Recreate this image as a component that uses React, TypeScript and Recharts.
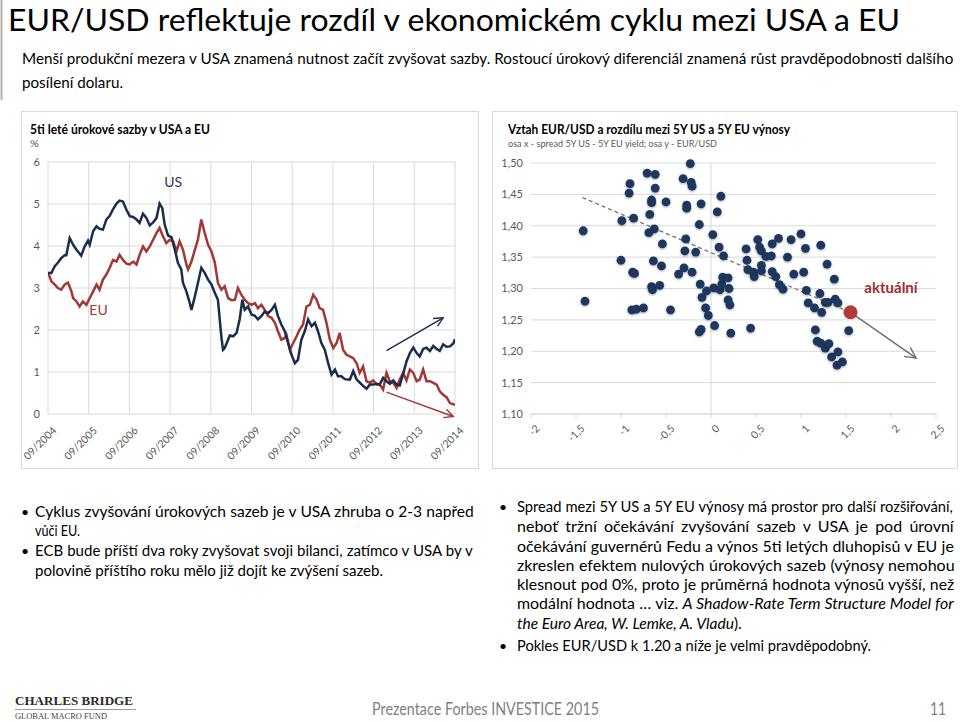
import React from "react";
import {
  LineChart,
  Line,
  XAxis,
  YAxis,
  CartesianGrid,
  ReferenceLine,
  ReferenceDot,
  ScatterChart,
  Scatter,
} from "recharts";

const FONT = 'Lato, "Open Sans", sans-serif';
const SERIF = '"Liberation Serif", "DejaVu Serif", serif';
const US_COLOR = "#1b2d4f";
const EU_COLOR = "#a13835";
const DOT_COLOR = "#1d3860";
const NOW_COLOR = "#b23b36";
const GRID = "#d9d9d9";
const TICK = "#595959";

// 5Y yields, x = months after 09/2004
const usMonth = [
  0, 1, 2, 2.9, 3.9, 4.9, 5.4, 6.4, 7.4, 8.4, 9.3, 9.8, 10.8, 11.8, 12.3, 13.3,
  14.3, 15.2, 16.2, 17.2, 18.2, 19.2, 20.2, 21.1, 22.1, 23.1, 24.1, 25.1, 26.1,
  27, 28, 29, 30, 31, 32, 32.9, 33.7, 34.4, 35.4, 36.4, 37.4, 38.3, 39.3, 39.8,
  40.8, 41.8, 42.3, 43.3, 44.2, 45.2, 46.2, 47.2, 48.2, 49.2, 50.1, 51.1, 51.6,
  52.1, 53.1, 53.6, 54.6, 55.6, 56.5, 57.3, 58, 59, 60, 61, 61.9, 62.9, 63.9,
  64.9, 65.9, 66.9, 67.8, 68.8, 69.8, 70.8, 71.8, 72.8, 73.7, 74.7, 75.7, 76.7,
  77.7, 78.7, 79.6, 80.6, 81.6, 82.6, 83.6, 84.6, 85.5, 86.5, 87.5, 89, 90, 91,
  91.9, 92.9, 93.9, 94.9, 95.9, 96.9, 97.8, 98.8, 99.8, 100.8, 101.8, 102.8,
  103.7, 104.7, 105.7, 106.7, 107.7, 108.7, 109.6, 110.6, 111.6, 112.6, 113.6,
  114.6, 115.5, 116.5, 117.5, 118.5, 119.5, 120,
];
const usRate = [
  3.36, 3.36, 3.52, 3.6, 3.71, 3.78, 3.78, 4.19, 4.03, 3.91, 3.82, 3.77, 3.99,
  4.13, 4.03, 4.35, 4.47, 4.41, 4.39, 4.63, 4.72, 4.88, 5.01, 5.08, 5.06, 4.87,
  4.71, 4.69, 4.63, 4.55, 4.77, 4.67, 4.49, 4.56, 4.67, 5.01, 4.9, 4.51, 4.25,
  4.21, 3.91, 3.6, 3.44, 3.12, 2.92, 2.64, 2.48, 2.8, 3.12, 3.48, 3.36, 3.2,
  3.08, 2.88, 2.72, 1.85, 1.53, 1.57, 1.77, 1.87, 1.85, 1.93, 2.25, 2.72, 2.48,
  2.56, 2.37, 2.34, 2.25, 2.33, 2.44, 2.4, 2.48, 2.6, 2.33, 2.13, 1.97, 1.69,
  1.41, 1.21, 1.29, 1.77, 1.97, 2.25, 2.09, 2.17, 1.97, 1.69, 1.53, 1.21, 0.94,
  1.06, 0.9, 0.9, 0.83, 0.82, 1.02, 0.82, 0.75, 0.67, 0.6, 0.7, 0.7, 0.72, 0.7,
  0.86, 0.78, 0.72, 0.8, 0.7, 0.68, 0.95, 1.25, 1.45, 1.58, 1.45, 1.37, 1.55,
  1.58, 1.5, 1.62, 1.55, 1.5, 1.66, 1.6, 1.61, 1.68, 1.78,
];
const euMonth = [
  0, 1, 2, 2.9, 3.9, 4.9, 5.9, 6.9, 7.4, 8.4, 9.3, 10.3, 11.3, 12.3, 13.3, 14.3,
  15.2, 16.2, 17.2, 18.2, 19.2, 20.2, 21.1, 22.1, 23.1, 24.1, 25.1, 26.1, 27,
  28, 29, 30, 31, 32, 32.9, 33.9, 34.9, 35.9, 36.9, 37.9, 38.8, 39.8, 40.8,
  41.3, 42.3, 43.3, 44.2, 45.2, 46.2, 47.2, 48.2, 49.2, 50.1, 51.1, 52.1, 53.1,
  54.1, 55.1, 56, 57, 58, 59, 60, 61, 61.9, 62.9, 63.9, 64.9, 65.9, 66.9, 67.8,
  68.8, 69.8, 70.3, 71.3, 72.3, 73.3, 74.2, 75.2, 76.2, 77.2, 78.2, 79.2, 80.1,
  81.1, 82.1, 83.1, 84.1, 85.1, 86, 87, 88, 89, 90, 91, 91.9, 92.9, 93.9, 94.9,
  95.9, 96.9, 97.8, 98.8, 99.8, 100.8, 101.8, 102.8, 103.7, 104.7, 105.7,
  106.7, 107.7, 108.7, 109.6, 110.6, 111.6, 112.6, 113.6, 114.6, 115.5, 116.5,
  117.5, 118.5, 120,
];
const euRate = [
  3.37, 3.16, 3.08, 3.0, 2.96, 3.08, 3.13, 2.92, 2.76, 2.68, 2.56, 2.68, 2.6,
  2.76, 2.92, 3.08, 2.96, 3.2, 3.32, 3.48, 3.67, 3.63, 3.79, 3.67, 3.58, 3.56,
  3.63, 3.56, 3.79, 3.99, 3.87, 3.99, 4.15, 4.31, 4.43, 4.23, 4.07, 4.15, 4.11,
  3.87, 4.11, 3.91, 3.56, 3.44, 3.63, 3.91, 4.15, 4.63, 4.31, 4.03, 3.87, 3.6,
  3.12, 2.96, 3.04, 2.76, 2.71, 2.72, 3.0, 2.84, 2.72, 2.64, 2.6, 2.64, 2.52,
  2.6, 2.48, 2.33, 2.29, 2.17, 1.97, 1.77, 1.81, 1.89, 1.53, 1.69, 1.85, 2.01,
  2.13, 2.56, 2.6, 2.84, 2.72, 2.52, 2.48, 2.17, 1.77, 1.57, 1.69, 1.93, 1.53,
  1.41, 1.37, 1.33, 1.21, 0.98, 1.13, 0.78, 0.75, 0.8, 0.7, 0.7, 0.58, 0.98,
  0.78, 0.74, 0.62, 0.82, 0.98, 0.8, 1.06, 0.98, 0.78, 0.82, 1.06, 0.78, 0.78,
  0.74, 0.7, 0.54, 0.46, 0.4, 0.26, 0.22,
];
const monthTicks = [0, 12, 24, 36, 48, 60, 72, 84, 96, 108, 120];
const rateTicks = [0, 1, 2, 3, 4, 5, 6];

// trend arrows on the yield chart
const usArrow = [{ x: 99.8, y: 1.51 }, { x: 116.5, y: 2.29 }];
const euArrow = [{ x: 99.8, y: 0.52 }, { x: 119.5, y: -0.06 }];

// scatter: spread 5Y US - 5Y EU vs EUR/USD
const spreadX = [
  -0.23, -0.71, -0.62, -0.31, -0.22, -0.9, -0.21, -0.62, -0.91, 0.11, -0.5,
  -0.66, -0.66, -0.27, -0.27, -0.11, 0.07, -0.68, -0.86, -0.99, -0.13, -1.42,
  -0.63, -0.69, 0.02, -0.28, -0.54, 0.09, -0.29, -0.17, 0.14, -1.0, -0.64,
  -0.55, -0.3, -0.36, -0.21, -0.87, -0.85, -0.66, -0.65, -0.57, -0.12, 0.03,
  -0.05, 0.1, 0.12, 0.13, 0.19, 0.2, -1.4, -0.88, -0.83, -0.75, -0.45, -0.1,
  -0.06, -0.03, 0.19, 0.21, 0.04, -0.11, -0.13, 0.22, 0.44, 0.39, 0.4, 0.41,
  0.47, 0.48, 0.52, 0.54, 0.56, 0.56, 0.56, 0.61, 0.67, 0.68, 0.68, 0.72, 0.75,
  0.76, 0.8, 0.85, 0.89, 0.92, 1.0, 1.05, 1.03, 1.06, 1.08, 1.15, 1.22, 1.29,
  1.21, 1.23, 1.27, 1.3, 1.37, 1.38, 1.41, 1.16, 1.18, 1.22, 1.27, 1.31, 1.34,
  1.41, 1.4, 1.46, 1.53,
];
const eurUsd = [
  1.499, 1.484, 1.482, 1.475, 1.469, 1.467, 1.463, 1.46, 1.452, 1.447, 1.438,
  1.441, 1.437, 1.433, 1.428, 1.435, 1.422, 1.418, 1.412, 1.408, 1.402, 1.392,
  1.395, 1.389, 1.386, 1.379, 1.371, 1.366, 1.36, 1.358, 1.352, 1.345, 1.344,
  1.336, 1.333, 1.323, 1.326, 1.326, 1.324, 1.303, 1.298, 1.305, 1.307, 1.301,
  1.296, 1.298, 1.307, 1.318, 1.317, 1.3, 1.28, 1.266, 1.267, 1.269, 1.266,
  1.286, 1.269, 1.257, 1.282, 1.274, 1.241, 1.235, 1.231, 1.229, 1.237, 1.363,
  1.345, 1.33, 1.326, 1.319, 1.378, 1.366, 1.36, 1.337, 1.328, 1.351, 1.352,
  1.371, 1.327, 1.319, 1.38, 1.306, 1.299, 1.35, 1.378, 1.323, 1.387, 1.364,
  1.326, 1.297, 1.277, 1.269, 1.369, 1.339, 1.292, 1.262, 1.278, 1.278, 1.315,
  1.283, 1.277, 1.234, 1.216, 1.213, 1.205, 1.212, 1.191, 1.199, 1.178, 1.183,
  1.233,
];
const currentSpread = 1.55;
const currentEurUsd = 1.262;
const trendStart = { x: -1.43, y: 1.445 };
const outlookEnd = { x: 2.28, y: 1.189 };
const spreadTicks = [-2, -1.5, -1, -0.5, 0, 0.5, 1, 1.5, 2, 2.5];
const fxTicks = [1.1, 1.15, 1.2, 1.25, 1.3, 1.35, 1.4, 1.45, 1.5];

const usData = usMonth.map((m, i) => ({ m, v: usRate[i] }));
const euData = euMonth.map((m, i) => ({ m, v: euRate[i] }));
const scatterData = spreadX.map((x, i) => ({ x, y: eurUsd[i] }));
const nowData = [{ x: currentSpread, y: currentEurUsd }];

const monthLabel = (m: number) => `09/${2004 + Math.round(m / 12)}`;
const czNum = (v: number) => String(v).replace(".", ",");
const czFx = (v: number) => v.toFixed(2).replace(".", ",");

const measureCtx = document.createElement("canvas").getContext("2d");
const textWidth = (s: string, size: number, italic = false) => {
  if (!measureCtx) return s.length * size * 0.5;
  measureCtx.font = `${italic ? "italic " : ""}400 ${size}px Lato`;
  return measureCtx.measureText(s).width;
};

const SlantTick = ({ x, y, payload, fmt }: any) => (
  <g transform={`translate(${x + 4},${y + 4})`}>
    <text
      textAnchor="end"
      transform="rotate(-45)"
      dy="0.7em"
      fontSize={10.5}
      fill={TICK}
      fontFamily={FONT}
    >
      {fmt(payload.value)}
    </text>
  </g>
);

const arrowShape = (color: string, marker: string, w = 1.4) => (p: any) => (
  <line
    x1={p.x1}
    y1={p.y1}
    x2={p.x2}
    y2={p.y2}
    stroke={color}
    strokeWidth={w}
    markerEnd={`url(#${marker})`}
  />
);

// svg text squeezed to the measured width
const T = ({ x, y, w, size = 16, weight = 400, fill = "#000", family = FONT, children }: any) => (
  <text
    x={x}
    y={y}
    textLength={w}
    lengthAdjust="spacingAndGlyphs"
    fontSize={size}
    fontWeight={weight}
    fill={fill}
    fontFamily={family}
  >
    {children}
  </text>
);

// justified line: shrink the font a bit if it is too long, then widen the word gaps
const J = ({ x, y, w, size = 16, text, italic }: any) => {
  const full = italic ? `${text} ${italic}` : text;
  const measure = (s: number) =>
    italic
      ? textWidth(text + " ", s) + textWidth(italic, s, true)
      : textWidth(text, s);
  let fs = size;
  let natural = measure(fs);
  if (natural > w - 2) {
    fs = (size * (w - 2)) / natural;
    natural = measure(fs);
  }
  const gaps = (full.match(/ /g) || []).length;
  const ws = gaps ? Math.max(0, (w - natural) / gaps) : 0;
  return (
    <text x={x} y={y} fontSize={fs} fontFamily={FONT} fill="#000" style={{ wordSpacing: `${ws}px` }}>
      {italic ? text + " " : text}
      {italic && <tspan fontStyle="italic">{italic}</tspan>}
    </text>
  );
};

const Bullet = ({ x, y }: any) => (
  <text x={x} y={y} fontSize={14} fontFamily={FONT} fill="#000">•</text>
);

const YieldChart = () => (
  <LineChart
    width={456}
    height={356}
    margin={{ top: 50, right: 23, bottom: 4, left: 4 }}
  >
    <CartesianGrid stroke={GRID} />
    <XAxis
      type="number"
      dataKey="m"
      domain={[0, 120]}
      ticks={monthTicks}
      interval={0}
      allowDataOverflow
      axisLine={false}
      tickLine={false}
      height={50}
      tick={(p: any) => <SlantTick {...p} fmt={monthLabel} />}
    />
    <YAxis
      type="number"
      domain={[0, 6]}
      ticks={rateTicks}
      interval={0}
      axisLine={false}
      tickLine={false}
      width={22}
      tick={{ fontSize: 11, fill: TICK, fontFamily: FONT }}
    />
    <Line
      data={euData}
      dataKey="v"
      type="linear"
      stroke={EU_COLOR}
      strokeWidth={2.5}
      dot={false}
      isAnimationActive={false}
    />
    <Line
      data={usData}
      dataKey="v"
      type="linear"
      stroke={US_COLOR}
      strokeWidth={2.5}
      dot={false}
      isAnimationActive={false}
    />
    <ReferenceLine segment={usArrow} ifOverflow="visible" shape={arrowShape(US_COLOR, "arrNavy")} />
    <ReferenceLine segment={euArrow} ifOverflow="visible" shape={arrowShape(EU_COLOR, "arrRed")} />
    <ReferenceDot
      x={36.9}
      y={5.52}
      r={0}
      fill="none"
      stroke="none"
      label={{ value: "US", position: "center", fill: "#2a3550", fontSize: 14, fontFamily: FONT }}
    />
    <ReferenceDot
      x={14.9}
      y={2.48}
      r={0}
      fill="none"
      stroke="none"
      label={{ value: "EU", position: "center", fill: EU_COLOR, fontSize: 14, fontFamily: FONT }}
    />
  </LineChart>
);

const SpreadChart = () => (
  <ScatterChart
    width={466}
    height={356}
    margin={{ top: 51, right: 22, bottom: 4, left: 5 }}
  >
    <CartesianGrid stroke={GRID} vertical={false} />
    <XAxis
      type="number"
      dataKey="x"
      domain={[-2, 2.5]}
      ticks={spreadTicks}
      interval={0}
      stroke={GRID}
      tickSize={4}
      height={50}
      tick={(p: any) => <SlantTick {...p} fmt={czNum} />}
    />
    <YAxis
      type="number"
      dataKey="y"
      domain={[1.1, 1.5]}
      ticks={fxTicks}
      interval={0}
      axisLine={false}
      tickLine={false}
      width={34}
      tickFormatter={czFx}
      tick={{ fontSize: 11, fill: TICK, fontFamily: FONT }}
    />
    <ReferenceLine x={0} stroke={GRID} />
    <ReferenceLine
      segment={[trendStart, { x: currentSpread, y: currentEurUsd }]}
      stroke="#6b6b6b"
      strokeWidth={1.2}
      strokeDasharray="4 3"
    />
    <ReferenceLine
      segment={[{ x: currentSpread, y: currentEurUsd }, outlookEnd]}
      shape={arrowShape("#6b6b6b", "arrGray", 1.3)}
    />
    <Scatter
      data={scatterData}
      isAnimationActive={false}
      shape={(p: any) => (
        <circle
          cx={p.cx}
          cy={p.cy}
          r={4.4}
          fill={DOT_COLOR}
          style={{ filter: "drop-shadow(0.8px 1px 0.8px rgba(0,0,0,0.35))" }}
        />
      )}
    />
    <Scatter
      data={nowData}
      isAnimationActive={false}
      shape={(p: any) => <circle cx={p.cx} cy={p.cy} r={7} fill={NOW_COLOR} />}
    />
    <ReferenceDot
      x={2.0}
      y={1.302}
      r={0}
      fill="none"
      stroke="none"
      label={{ value: "aktuální", position: "center", fill: "#9b2f2e", fontSize: 15, fontWeight: 700, fontFamily: FONT }}
    />
  </ScatterChart>
);

export default function App() {
  return (
    <div
      style={{
        position: "absolute",
        left: 0,
        top: 0,
        width: 960,
        height: 722,
        background: "#fff",
        overflow: "hidden",
        fontFamily: FONT,
      }}
    >
      <svg width={0} height={0} style={{ position: "absolute" }}>
        <defs>
          <marker id="arrNavy" markerWidth="12" markerHeight="12" refX="10" refY="6" orient="auto" markerUnits="userSpaceOnUse">
            <path d="M1,1.5 L10,6 L1,10.5" fill="none" stroke={US_COLOR} strokeWidth="1.4" />
          </marker>
          <marker id="arrRed" markerWidth="12" markerHeight="12" refX="10" refY="6" orient="auto" markerUnits="userSpaceOnUse">
            <path d="M1,1.5 L10,6 L1,10.5" fill="none" stroke={EU_COLOR} strokeWidth="1.4" />
          </marker>
          <marker id="arrGray" markerWidth="14" markerHeight="14" refX="12" refY="7" orient="auto" markerUnits="userSpaceOnUse">
            <path d="M1,1.5 L12,7 L1,12.5" fill="none" stroke="#6b6b6b" strokeWidth="1.3" />
          </marker>
        </defs>
      </svg>

      <div style={{ position: "absolute", left: 21, top: 111, width: 456, height: 356, border: `1px solid ${GRID}` }} />
      <div style={{ position: "absolute", left: 492, top: 111, width: 464, height: 356, border: `1px solid ${GRID}` }} />

      <div style={{ position: "absolute", left: 22, top: 112 }}>
        <YieldChart />
      </div>
      <div style={{ position: "absolute", left: 492, top: 112 }}>
        <SpreadChart />
      </div>

      <svg width={960} height={722} style={{ position: "absolute", left: 0, top: 0, pointerEvents: "none" }}>
        <line x1={1.5} y1={0} x2={1.5} y2={100} stroke="#b0b0b0" strokeWidth={2} />
        <T x={8} y={31} w={892} size={31}>EUR/USD reflektuje rozdíl v ekonomickém cyklu mezi USA a EU</T>
        <J
          x={22}
          y={64}
          w={933}
          size={16}
          text="Menší produkční mezera v USA znamená nutnost začít zvyšovat sazby. Rostoucí úrokový diferenciál znamená růst pravděpodobnosti dalšího"
        />
        <T x={22} y={88} w={101} size={16}>posílení dolaru.</T>

        <T x={30} y={134} w={180} size={13} weight={700}>5ti leté úrokové sazby v USA a EU</T>
        <T x={30} y={147} w={9} size={10} fill={TICK}>%</T>
        <T x={508} y={134} w={282} size={13} weight={700}>Vztah EUR/USD a rozdílu mezi 5Y US a 5Y EU výnosy</T>
        <T x={508} y={147} w={209} size={10} fill={TICK}>osa x - spread 5Y US - 5Y EU yield; osa y - EUR/USD</T>

        <Bullet x={21} y={517} />
        <J x={35} y={517} w={440} text="Cyklus zvyšování úrokových sazeb je v USA zhruba o 2-3 napřed" />
        <T x={35} y={536} w={45}>vůči EU.</T>
        <Bullet x={21} y={556} />
        <J x={35} y={556} w={440} text="ECB bude příští dva roky zvyšovat svoji bilanci, zatímco v USA by v" />
        <T x={35} y={576} w={348}>polovině příštího roku mělo již dojít ke zvýšení sazeb.</T>

        <Bullet x={499} y={512} />
        <J x={517} y={512} w={438} text="Spread mezi 5Y US a 5Y EU výnosy má prostor pro další rozšiřování," />
        <J x={517} y={532} w={438} text="neboť tržní očekávání zvyšování sazeb v USA je pod úrovní" />
        <J x={517} y={552} w={438} text="očekávání guvernérů Fedu a výnos 5ti letých dluhopisů v EU je" />
        <J x={517} y={571} w={438} text="zkreslen efektem nulových úrokových sazeb (výnosy nemohou" />
        <J x={517} y={590} w={438} text="klesnout pod 0%, proto je průměrná hodnota výnosů vyšší, než" />
        <J x={517} y={609} w={438} text="modální hodnota … viz." italic="A Shadow-Rate Term Structure Model for" />
        <text x={517} y={628.5} fontSize={15.5} fontFamily={FONT} fill="#000">
          <tspan fontStyle="italic">the Euro Area, W. Lemke, A. Vladu</tspan>).
        </text>
        <Bullet x={499} y={651} />
        <T x={517} y={651} w={354}>Pokles EUR/USD k 1.20 a níže je velmi pravděpodobný.</T>

        <T x={15} y={705} w={118} size={13} weight={700} fill="#2b2b2b" family={SERIF}>CHARLES BRIDGE</T>
        <line x1={15} y1={709.5} x2={136} y2={709.5} stroke="#9a9a9a" strokeWidth={1} />
        <T x={15} y={719} w={92} size={7.5} fill="#444" family={SERIF}>GLOBAL MACRO FUND</T>
        <T x={372} y={715} w={227} size={17} fill="#7f7f7f">Prezentace Forbes INVESTICE 2015</T>
        <T x={930} y={715} w={16} size={17} fill="#7f7f7f">11</T>
      </svg>
    </div>
  );
}
